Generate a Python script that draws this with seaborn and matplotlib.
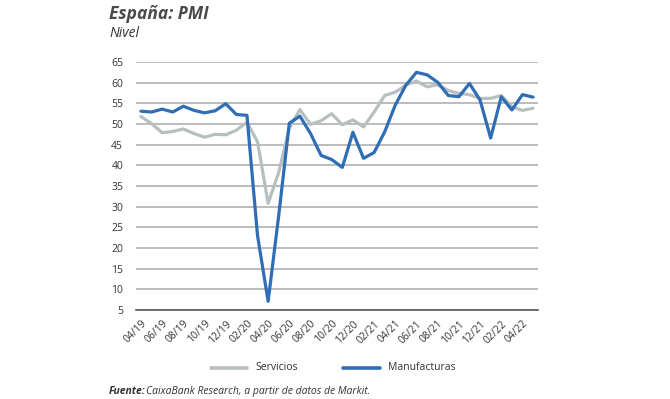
import matplotlib
matplotlib.use("Agg")
import matplotlib.pyplot as plt
import seaborn as sns
import pandas as pd
import numpy as np

# monthly PMI, 04/19 - 05/22
months = pd.period_range("2019-04", "2022-05", freq="M").strftime("%m/%y").tolist()

servicios = [51.8, 50.1, 47.9, 48.2, 48.8, 47.7, 46.8, 47.5, 47.4, 48.5, 50.4, 45.7,
             30.8, 38.3, 49.0, 53.5, 49.9, 50.8, 52.5, 49.8, 51.0, 49.3, 52.9, 56.9,
             57.7, 59.4, 60.4, 59.0, 59.5, 58.1, 57.4, 57.1, 56.2, 56.2, 56.9, 54.2,
             53.3, 53.8]
manufacturas = [53.1, 52.9, 53.6, 52.9, 54.3, 53.3, 52.7, 53.2, 54.9, 52.3, 52.1, 23.0,
                7.1, 27.9, 50.2, 51.9, 47.7, 42.4, 41.4, 39.5, 48.0, 41.7, 43.1, 48.1,
                54.6, 59.4, 62.5, 61.9, 60.1, 56.9, 56.6, 59.8, 55.8, 46.6, 56.6, 53.4,
                57.1, 56.5]

df = pd.DataFrame({"i": np.arange(len(months)), "mes": months,
                   "Servicios": servicios, "Manufacturas": manufacturas})
long = df.melt(id_vars=["i", "mes"], var_name="serie", value_name="pmi")

sns.set_theme(style="white")
plt.rcParams["font.family"] = ["Open Sans", "DejaVu Sans"]
txt = "#333333"

fig = plt.figure(figsize=(6.7, 3.99), dpi=100)
ax = fig.add_axes([0.2025, 0.223, 0.601, 0.6216])

sns.lineplot(data=long, x="i", y="pmi", hue="serie",
             palette={"Servicios": "#b8bfc0", "Manufacturas": "#2f6db5"},
             hue_order=["Servicios", "Manufacturas"],
             linewidth=2.3, ax=ax, legend=False)

ax.set_xlim(-0.5, len(months) - 0.5)
ax.set_ylim(5, 65)
ax.set_yticks(range(5, 70, 5))
ax.yaxis.grid(True, color="#b0b0b0", linewidth=1.2)
ax.set_axisbelow(True)
for s in ["top", "right", "left"]:
    ax.spines[s].set_visible(False)
ax.spines["bottom"].set_color("#555555")
ax.spines["bottom"].set_linewidth(1.2)

ax.set_xticks(np.arange(0, len(months), 2))
ax.set_xticklabels(months[::2], rotation=45, ha="right", rotation_mode="anchor")
ax.set_xticks(np.arange(-0.5, len(months), 2), minor=True)
ax.tick_params(axis="x", which="major", length=0, pad=6, labelsize=7.5, colors=txt)
ax.tick_params(axis="x", which="minor", length=3, width=1, direction="in", color="#555555")
ax.tick_params(axis="y", length=0, pad=9, labelsize=7.5, colors=txt)
ax.set_xlabel("")
ax.set_ylabel("")

fig.text(0.163, 0.965, "España: PMI", fontsize=12.5, fontweight="bold",
         style="italic", color="#4a4a4a", va="center")
fig.text(0.163, 0.915, "Nivel", fontsize=10, style="italic", color=txt, va="center")

# legend
fig.lines.append(plt.Line2D([0.315, 0.368], [0.078, 0.078], color="#b8bfc0",
                            linewidth=2.6, transform=fig.transFigure))
fig.text(0.381, 0.078, "Servicios", fontsize=7.5, color=txt, va="center")
fig.lines.append(plt.Line2D([0.512, 0.567], [0.078, 0.078], color="#2f6db5",
                            linewidth=2.6, transform=fig.transFigure))
fig.text(0.579, 0.078, "Manufacturas", fontsize=7.5, color=txt, va="center")

t = fig.text(0.163, 0.018, "Fuente:", fontsize=7.5, fontweight="bold",
             style="italic", color=txt, va="center")
fig.text(0.218, 0.018, "CaixaBank Research, a partir de datos de Markit.",
         fontsize=7.5, style="italic", color=txt, va="center")

fig.savefig("out.png", dpi=100)
